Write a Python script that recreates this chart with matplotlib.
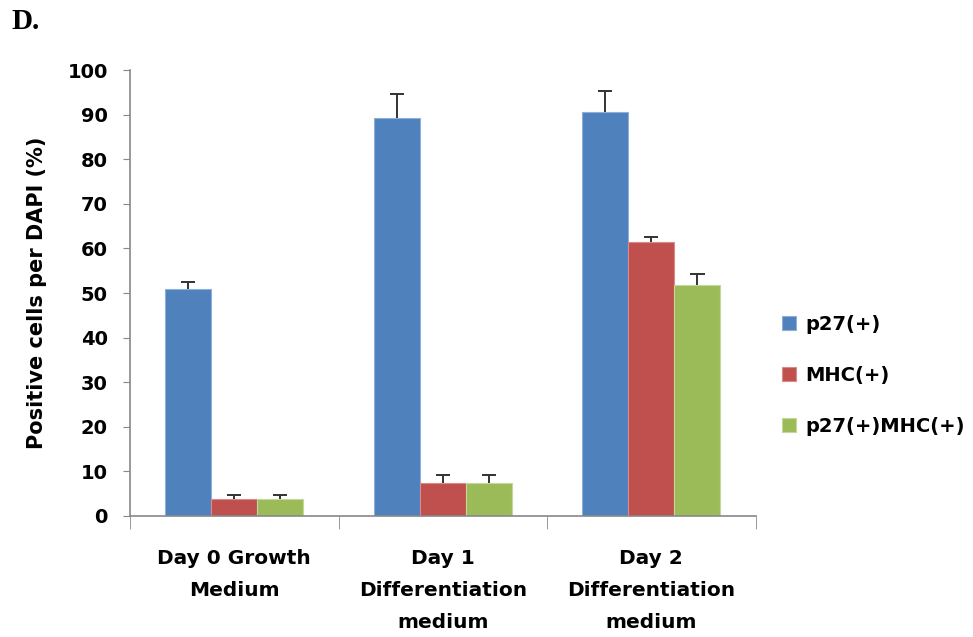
import numpy as np
import matplotlib
matplotlib.use('Agg')
import matplotlib.pyplot as plt

categories = ['Day 0 Growth\nMedium', 'Day 1\nDifferentiation\nmedium', 'Day 2\nDifferentiation\nmedium']
series = ['p27(+)', 'MHC(+)', 'p27(+)MHC(+)']
p27 = [50.8, 89.2, 90.6]
mhc = [3.8, 7.3, 61.5]
both = [3.8, 7.3, 51.9]
p27_err = [1.7, 5.4, 4.7]
mhc_err = [0.8, 1.8, 1.1]
both_err = [0.8, 1.8, 2.4]

colors = ['#4F81BD', '#C0504D', '#9BBB59']
edges = ['#8EAEDB', '#D98B89', '#C1D99A']

fig = plt.figure(figsize=(9.73, 6.37), dpi=100)
ax = fig.add_axes([0.1336, 0.19, 0.643, 0.70])

x = np.arange(len(categories))
w = 0.221
cap = 0.034
for i, (vals, errs) in enumerate([(p27, p27_err), (mhc, mhc_err), (both, both_err)]):
    pos = x + (i - 1) * w
    vals = np.array(vals)
    errs = np.array(errs)
    ax.bar(pos, vals, w, color=colors[i], edgecolor=edges[i], linewidth=0.8,
           label=series[i], zorder=2)
    # только верхние усы, как в Excel
    ax.vlines(pos, vals, vals + errs, color='#333333', linewidth=1.4, zorder=3)
    ax.hlines(vals + errs, pos - cap, pos + cap, color='#333333', linewidth=1.4, zorder=3)

ax.set_xlim(-0.5, 2.5)
ax.set_ylim(0, 100)
ax.set_yticks(np.arange(0, 101, 10))
ax.set_xticks(x)
ax.set_xticklabels(categories, fontsize=14.5, fontweight='bold', linespacing=1.85)
ax.set_xticks([-0.5, 0.5, 1.5, 2.5], minor=True)
ax.tick_params(axis='x', which='major', length=0, pad=24)
ax.tick_params(axis='x', which='minor', length=9, color='#888888', direction='out')
ax.tick_params(axis='y', length=5, color='#888888', direction='out', labelsize=14, pad=11)
for lbl in ax.get_yticklabels():
    lbl.set_fontweight('bold')

for s in ['top', 'right']:
    ax.spines[s].set_visible(False)
for s in ['left', 'bottom']:
    ax.spines[s].set_color('#888888')
    ax.spines[s].set_linewidth(1.2)

ax.set_ylabel('Positive cells per DAPI (%)', fontsize=15, fontweight='bold', labelpad=15)

leg = ax.legend(loc='center left', bbox_to_anchor=(1.014, 0.315), frameon=False,
                prop={'weight': 'bold', 'size': 14}, handlelength=0.75, handleheight=0.75,
                handletextpad=0.45, labelspacing=1.65)

fig.text(0.012, 0.966, 'D.', fontsize=21, fontweight='bold', family='Liberation Serif',
         ha='left', va='center')

fig.savefig('out.png', dpi=100)
